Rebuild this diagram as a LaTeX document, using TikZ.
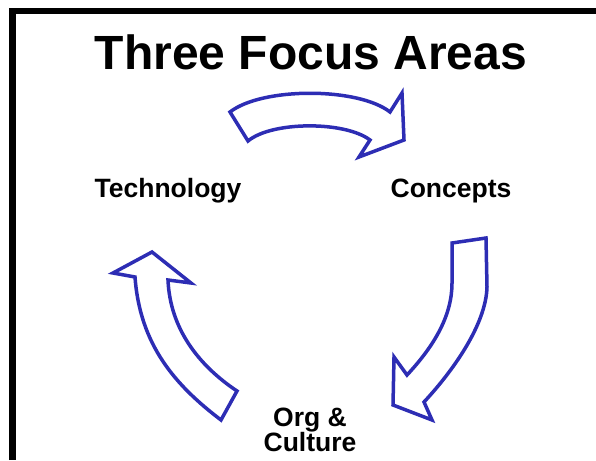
\documentclass[tikz,border=0pt]{standalone}
\usepackage{fontspec}
\setmainfont{Liberation Sans}
\definecolor{arrowblue}{HTML}{2D2DB4}
\begin{document}
\begin{tikzpicture}[x=1pt,y=-1pt,
  blockarrow/.style={draw=arrowblue,fill=white,line width=3.5pt,line join=miter},
  label/.style={font=\fontsize{26.5}{25}\selectfont\bfseries,inner sep=0pt,anchor=base,align=center},
  frame/.style={draw=black,line width=6.5pt}]
\useasboundingbox (0,0) rectangle (596,460);
% frame
\draw[frame] (12.5,460) -- (12.5,11) -- (596,11);
% title
\node[font=\fontsize{48}{50}\selectfont\bfseries,inner sep=0pt,anchor=base] (title) at (311,69) {Three Focus Areas};
% labels
\node[label] (tech) at (168,197) {Technology};
\node[label] (conc) at (451,197) {Concepts};
\node[label] (org) at (310,451) {Org \&\\Culture};
% top arrow: Technology -> Concepts
\draw[blockarrow] (230,112) .. controls (262,87) and (358,87) .. (390,112)
  -- (402,93) -- (404,140) -- (359,157) -- (370,140)
  .. controls (345,121) and (272,121) .. (248,141) -- cycle;
% right arrow: Concepts -> Org & Culture
\draw[blockarrow] (452,243) -- (486,238) -- (487,287)
  .. controls (486,325) and (452,372) .. (424,402)
  -- (432,420) -- (393,405) -- (394,357) -- (407,375)
  .. controls (435,345) and (452,315) .. (452,283) -- cycle;
% left arrow: Org & Culture -> Technology
\draw[blockarrow] (237,391) -- (221,420)
  .. controls (175,385) and (140,345) .. (135,277)
  -- (113,273) -- (152,252) -- (191,283) -- (168,280)
  .. controls (170,328) and (198,365) .. (237,391) -- cycle;
\end{tikzpicture}
\end{document}
